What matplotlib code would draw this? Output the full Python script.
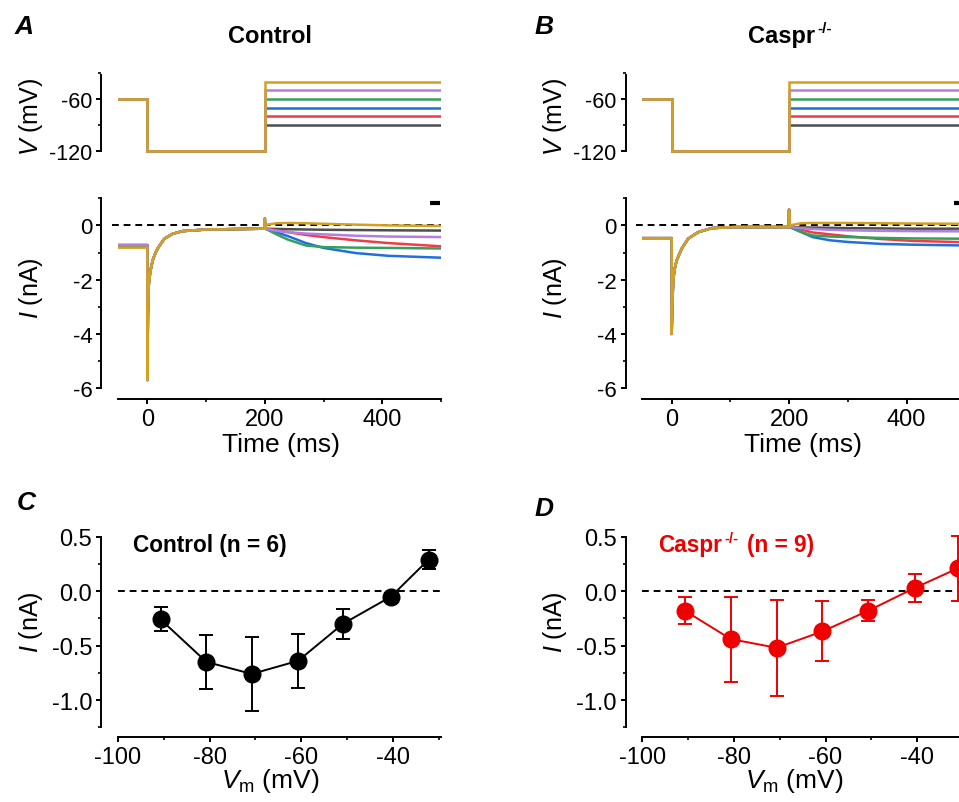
import matplotlib
matplotlib.use('Agg')
import matplotlib.pyplot as plt
from matplotlib.ticker import MultipleLocator

plt.rcParams['font.family'] = ['Liberation Sans', 'DejaVu Sans']
plt.rcParams['mathtext.fontset'] = 'custom'
plt.rcParams['mathtext.rm'] = 'Liberation Sans'
plt.rcParams['mathtext.it'] = 'Liberation Sans:italic'
plt.rcParams['mathtext.bf'] = 'Liberation Sans:bold'

# ---- data ----
colors = ['#4d4d4d', '#f03c46', '#1f6fdc', '#36a05a', '#b27ee0', '#d4a020']
step_mV = [-90, -80, -70, -60, -50, -40]
hold_mV = -60
pre_mV = -120

# control example cell
ctrl_base = [-0.74, -0.72, -0.74, -0.74, -0.72, -0.82]
ctrl_t_pre = [0, 1, 2.5, 5, 9, 14, 19, 29, 43, 60, 100, 199.5]
ctrl_i_pre = [-5.7, -3.2, -2.15, -1.7, -1.29, -1.0, -0.8, -0.49, -0.31, -0.21, -0.15, -0.12]
ctrl_spike = 0.25
t_post = [201, 220, 240, 270, 300, 355, 410, 500]
ctrl_i_post = [
    [-0.12, -0.13, -0.14, -0.15, -0.16, -0.17, -0.18, -0.19],
    [-0.12, -0.18, -0.25, -0.35, -0.43, -0.55, -0.65, -0.77],
    [-0.12, -0.25, -0.40, -0.65, -0.83, -1.02, -1.12, -1.19],
    [-0.12, -0.33, -0.53, -0.74, -0.80, -0.82, -0.83, -0.85],
    [-0.12, -0.20, -0.25, -0.30, -0.33, -0.38, -0.41, -0.43],
    [0.02, 0.08, 0.09, 0.08, 0.06, 0.03, 0.00, -0.02],
]

# Caspr-/- example cell
caspr_base = [-0.47, -0.47, -0.47, -0.47, -0.47, -0.49]
caspr_t_pre = [0, 1, 2.5, 4.5, 8.5, 17, 28, 45, 68, 107, 199.5]
caspr_i_pre = [-4.0, -3.0, -2.1, -1.66, -1.29, -0.86, -0.49, -0.25, -0.10, -0.06, -0.06]
caspr_spike = 0.58
caspr_i_post = [
    [-0.06, -0.07, -0.08, -0.09, -0.10, -0.11, -0.12, -0.12],
    [-0.06, -0.15, -0.26, -0.33, -0.40, -0.50, -0.57, -0.62],
    [-0.06, -0.24, -0.43, -0.55, -0.61, -0.68, -0.71, -0.74],
    [-0.06, -0.24, -0.37, -0.41, -0.43, -0.46, -0.48, -0.49],
    [-0.06, -0.10, -0.13, -0.16, -0.18, -0.20, -0.21, -0.22],
    [0.00, 0.08, 0.09, 0.09, 0.09, 0.08, 0.07, 0.06],
]

# I-V summary
vm_ctrl = [-90.7, -80.7, -70.8, -60.7, -50.9, -40.4, -32.2]
i_ctrl = [-0.26, -0.65, -0.76, -0.64, -0.30, -0.05, 0.29]
err_ctrl = [0.11, 0.25, 0.34, 0.245, 0.14, 0.03, 0.09]
vm_caspr = [-90.7, -80.7, -70.7, -60.7, -50.7, -40.5, -31.1]
i_caspr = [-0.18, -0.44, -0.52, -0.37, -0.18, 0.03, 0.21]
err_caspr = [0.125, 0.39, 0.44, 0.275, 0.095, 0.13, 0.30]

# ---- figure ----
W, H = 959, 803
fig = plt.figure(figsize=(W / 100, H / 100), dpi=100)


def box(left, top, width, height):
    return [left / W, 1 - (top + height) / H, width / W, height / H]


def style(ax, left_bounds, bottom=True):
    for s in ['top', 'right']:
        ax.spines[s].set_visible(False)
    ax.spines['left'].set_position(('outward', 12))
    ax.spines['left'].set_bounds(*left_bounds)
    ax.spines['left'].set_linewidth(1.4)
    ax.spines['bottom'].set_linewidth(1.4)
    if not bottom:
        ax.spines['bottom'].set_visible(False)
        ax.tick_params(axis='x', which='both', bottom=False, labelbottom=False)
    ax.tick_params(which='major', length=3.5, width=1.4, labelsize=16, pad=3)
    ax.tick_params(which='minor', length=2.2, width=1.2)
    ax.patch.set_visible(False)


def voltage_panel(left):
    ax = fig.add_axes(box(left, 74, 323, 80.6))
    for c, lev in zip(colors, step_mV):
        ax.plot([-50, 0, 0, 200, 200, 500], [hold_mV, hold_mV, pre_mV, pre_mV, lev, lev],
                color=c, lw=1.8, solid_joinstyle='miter')
    ax.set_xlim(-50, 500)
    ax.set_ylim(-123, -30)
    style(ax, (-120, -32), bottom=False)
    ax.set_yticks([-120, -60])
    ax.set_yticklabels(['-120', '-60'])
    ax.yaxis.set_minor_locator(MultipleLocator(30))
    ax.tick_params(labelsize=15.5)
    return ax


def current_panel(left, base, t_pre, i_pre, spike, i_post):
    ax = fig.add_axes(box(left, 199.3, 323, 200.7))
    ax.axhline(0, xmin=-0.02, color='black', lw=1.4, ls=(0, (3.5, 2.5)), clip_on=False, zorder=1)
    for c, b, post in zip(colors, base, i_post):
        t = [-50, 0] + t_pre + [200, 200.8] + t_post
        y = [b, b] + i_pre + [spike, i_pre[-1]] + post
        ax.plot(t, y, color=c, lw=1.8, zorder=2)
    ax.plot([481, 498], [0.84, 0.84], color='black', lw=3, solid_capstyle='butt', zorder=3)
    ax.set_xlim(-50, 500)
    ax.set_ylim(-6.4, 1)
    style(ax, (-6, 1))
    ax.set_yticks([-6, -4, -2, 0])
    ax.set_yticklabels(['-6', '-4', '-2', '0'])
    ax.yaxis.set_minor_locator(MultipleLocator(1))
    ax.set_xticks([0, 200, 400])
    ax.set_xticklabels(['0', '200', '400'])
    ax.xaxis.set_minor_locator(MultipleLocator(100))
    ax.tick_params(axis='x', labelsize=17)
    return ax


def iv_panel(left, vm, cur, err, color):
    ax = fig.add_axes(box(left, 532.2, 323, 205.5))
    ax.axhline(0, color='black', lw=1.4, ls=(0, (3.5, 2.5)), zorder=1)
    ax.errorbar(vm, cur, yerr=err, color=color, lw=1.4, marker='o', ms=12,
                capsize=5, capthick=1.4, elinewidth=1.4, zorder=3, clip_on=False)
    ax.set_xlim(-100, -29.5)
    ax.set_ylim(-1.336, 0.55)
    style(ax, (-1.25, 0.5))
    ax.set_yticks([-1.0, -0.5, 0.0, 0.5])
    ax.set_yticklabels(['-1.0', '-0.5', '0.0', '0.5'])
    ax.yaxis.set_minor_locator(MultipleLocator(0.25))
    ax.set_xticks([-100, -80, -60, -40])
    ax.set_xticklabels(['-100', '-80', '-60', '-40'])
    ax.xaxis.set_minor_locator(MultipleLocator(10))
    ax.tick_params(labelsize=17)
    return ax


voltage_panel(118)
current_panel(118, ctrl_base, ctrl_t_pre, ctrl_i_pre, ctrl_spike, ctrl_i_post)
voltage_panel(642.3)
current_panel(642.3, caspr_base, caspr_t_pre, caspr_i_pre, caspr_spike, caspr_i_post)
iv_panel(118, vm_ctrl, i_ctrl, err_ctrl, 'black')
iv_panel(642.3, vm_caspr, i_caspr, err_caspr, '#ee0000')


def ftext(x, y, s, **kw):
    return fig.text(x / W, 1 - y / H, s, **kw)


# panel letters and titles
for x, y, s in [(24, 27, 'A'), (544, 27, 'B'), (26, 503, 'C'), (544, 509, 'D')]:
    ftext(x, y, s, fontsize=19, fontweight='bold', fontstyle='italic', ha='center', va='center')
ftext(270, 43, 'Control', fontsize=17, fontweight='bold', ha='center', va='baseline')
ftext(748, 43, 'Caspr', fontsize=17, fontweight='bold', ha='left', va='baseline')
ftext(817, 33, '-/-', fontsize=11, fontweight='bold', ha='left', va='baseline')
ftext(133, 552, 'Control (n = 6)', fontsize=16.3, fontweight='bold', ha='left', va='baseline')
ftext(658, 552, 'Caspr', fontsize=16.3, fontweight='bold', ha='left', va='baseline', color='#ee0000')
ftext(724, 543, '-/-', fontsize=10.5, fontweight='bold', ha='left', va='baseline', color='#ee0000')
ftext(747, 552, '(n = 9)', fontsize=16.3, fontweight='bold', ha='left', va='baseline', color='#ee0000')

# axis labels
for xc in [31, 555]:
    ftext(xc, 117, r'$V$ (mV)', fontsize=18, rotation=90, ha='center', va='center')
    ftext(xc, 288, r'$I$ (nA)', fontsize=18, rotation=90, ha='center', va='center')
    ftext(xc, 622, r'$I$ (nA)', fontsize=18, rotation=90, ha='center', va='center')
for xc in [281, 803]:
    ftext(xc, 452, 'Time (ms)', fontsize=19, ha='center', va='baseline')
for xc in [270, 794]:
    ftext(xc, 788, r'$V_{\rm m}$ (mV)', fontsize=19, ha='center', va='baseline')

fig.savefig('out.png', dpi=100)
